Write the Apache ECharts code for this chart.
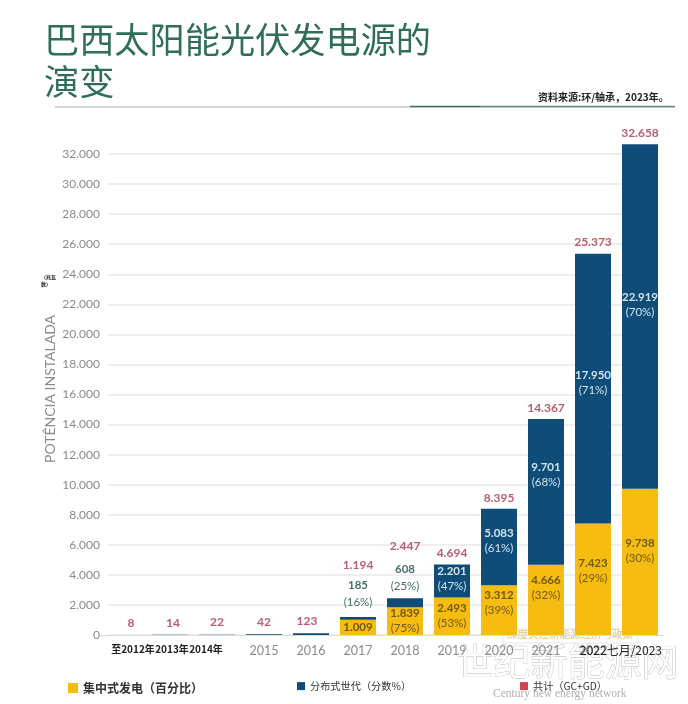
<!DOCTYPE html>
<html><head><meta charset="utf-8">
<style>html,body{margin:0;padding:0;background:#fff}#c{width:688px;height:704px}</style>
<script src="https://cdn.jsdelivr.net/npm/echarts@6/dist/echarts.min.js"></script>
</head><body><div id="c"></div>
<script>
const categories = ['至2012年','2013年','2014年','2015','2016','2017','2018','2019','2020','2021','2022','七月/2023'];
const gcValues = [0,0,0,0,0,1009,1839,2493,3312,4666,7423,9738];
const gdValues = [8,14,22,42,123,185,608,2201,5083,9701,17950,22919];
const totals = [8,14,22,42,123,1194,2447,4694,8395,14367,25373,32658];
const gcPct = [null,null,null,null,null,null,75,53,39,32,29,30];
const gdPct = [null,null,null,null,null,16,25,47,61,68,71,70];
const yTicks = [0,2000,4000,6000,8000,10000,12000,14000,16000,18000,20000,22000,24000,26000,28000,30000,32000];

const CJK = '"Noto Sans CJK SC"';
const num = v => { const s = String(v); return s.length > 3 ? s.slice(0, -3) + '.' + s.slice(-3) : s; };
const totalOffset = {0:[8,0],1:[3,0],4:[-4,0],5:[0,-41],6:[0,-41]};
const gcLabelOffset = {8:-7,9:-12,10:-8,11:-11};
const gdLabelOffset = {7:-2,8:-6,9:-17,10:-6,11:-12};
const Y0 = 635, UNIT = 30.06 / 2000, YMAX = 34000, TOP = Y0 - YMAX * UNIT;
const labelColors = {red:'#a83349', darkY:'#6e5a14', light:'#cfe2ef', teal:'#4a6f6c'};

const option = {
  animation:false,
  backgroundColor:'#fff',
  textStyle:{fontFamily:CJK},
  grid:[
    {left:108,top:TOP,width:514,height:Y0-TOP},
    {left:99.5,top:TOP,width:564,height:Y0-TOP}
  ],
  xAxis:[
    {gridIndex:0,type:'category',data:[''],show:false},
    {gridIndex:1,type:'category',data:categories,
      axisLine:{lineStyle:{color:'#dcdcdc'}},axisTick:{show:false},
      axisLabel:{interval:0,margin:9,fontFamily:'Lato',fontSize:12.5,color:'#8a8a8a',
        formatter:(v,i)=> i===0?`{a|${v}}`:i===1?`{c|${v}}`:i===2?`{d|${v}}`:(i===11?`{w|2022${v}}`:v),
        rich:{a:{fontFamily:CJK,fontSize:10,fontWeight:'bold',color:'#222',padding:[0,0,4,20]},
              c:{fontFamily:CJK,fontSize:10,fontWeight:'bold',color:'#222',padding:[0,0,4,4]},
              d:{fontFamily:CJK,fontSize:10,fontWeight:'bold',color:'#222',padding:[0,22,4,0]},
              w:{fontFamily:CJK,fontSize:12,color:'#222',padding:[0,38,2,0]}}}}
  ],
  yAxis:[
    {gridIndex:0,type:'value',min:0,max:YMAX,interval:2000,
      axisLine:{show:false},axisTick:{show:false},
      splitLine:{show:true,showMaxLine:false,lineStyle:{color:'#e8e8e8',width:1.5}},
      axisLabel:{margin:8,fontFamily:'Lato',fontSize:12,color:'#8a8a8a',
        formatter:v=> yTicks.includes(v)?(v===0?'0':num(v)):''}},
    {gridIndex:1,type:'value',min:0,max:YMAX,interval:2000,show:false,splitLine:{show:false}}
  ],
  legend:[
    {left:63,top:677,data:['集中式发电（百分比）'],icon:'rect',itemWidth:10,itemHeight:10,itemGap:6,
      textStyle:{fontFamily:CJK,fontSize:12,color:'#333',fontWeight:'bold'}},
    {left:292,top:676,data:['分布式世代（分数%）'],icon:'rect',itemWidth:8,itemHeight:8,itemGap:4,
      textStyle:{fontFamily:CJK,fontSize:10.2,color:'#333'}},
    {left:515,top:676,data:['共计（GC+GD）'],icon:'rect',itemWidth:8,itemHeight:8,itemGap:3,
      textStyle:{fontFamily:CJK,fontSize:10.2,color:'#333'}}
  ],
  series:[
    {name:'集中式发电（百分比）',type:'bar',stack:'a',xAxisIndex:1,yAxisIndex:1,barWidth:36,
      itemStyle:{color:'#f6bc12'},
      data:gcValues.map((v,i)=>({value:v,label:{
        show:v>0,position:'inside',offset:[0,gcLabelOffset[i]||0],
        formatter:gcPct[i]!=null?`{v|${num(v)}}\n{p|(${gcPct[i]}%)}`:`{v|${num(v)}}`,
        rich:{v:{fontFamily:'Lato',fontSize:11.5,fontWeight:'bold',color:labelColors.darkY,lineHeight:15},
              p:{fontFamily:'Lato',fontSize:11.5,color:labelColors.darkY,lineHeight:15}}}}))},
    {name:'分布式世代（分数%）',type:'bar',stack:'a',xAxisIndex:1,yAxisIndex:1,barWidth:36,
      itemStyle:{color:'#0f4c78'},
      data:gdValues.map((v,i)=>({value:v,label:{
        show:gdPct[i]!=null,position:(i===5||i===6)?'top':'inside',distance:i===5?6:3,
        offset:[0,gdLabelOffset[i]||0],
        formatter:`{v|${num(v)}}\n{p|(${gdPct[i]}%)}`,
        rich:(i===5||i===6)?
          {v:{fontFamily:'Lato',fontSize:11.5,fontWeight:'bold',color:labelColors.teal,lineHeight:17},
           p:{fontFamily:'Lato',fontSize:11.5,color:labelColors.teal,lineHeight:17}}:
          {v:{fontFamily:'Lato',fontSize:11.5,fontWeight:'bold',color:labelColors.light,lineHeight:15},
           p:{fontFamily:'Lato',fontSize:11.5,color:labelColors.light,lineHeight:15}}}}))},
    {name:'共计（GC+GD）',type:'scatter',xAxisIndex:1,yAxisIndex:1,symbol:'rect',symbolSize:0.1,
      itemStyle:{color:'#c4172c'},
      data:totals.map((v,i)=>({value:v,label:{show:true,position:'top',distance:i<5?6:5,
        offset:totalOffset[i]||[0,0],formatter:`{t|${num(v)}}`,
        rich:{t:{fontFamily:'Lato',fontSize:12,fontWeight:'bold',color:labelColors.red}}}}))}
  ],
  graphic:[
    {type:'text',left:44,top:18,style:{text:'巴西太阳能光伏发电源的\n演变',fontFamily:CJK,fontSize:35.2,lineHeight:42.5,fill:'#2f6e58'}},
    {type:'text',left:538,top:92,style:{text:'资料来源:环/轴承，2023年。',fontFamily:CJK,fontSize:10,fontWeight:'bold',fill:'#222'}},
    {type:'line',shape:{x1:55,y1:107,x2:675,y2:107},style:{stroke:'#a5aeaa',lineWidth:1}},
    {type:'line',shape:{x1:410,y1:106.5,x2:480,y2:106.5},style:{stroke:'#3f6f5e',lineWidth:1.5}},
    {type:'line',shape:{x1:480,y1:106.5,x2:675,y2:106.5},style:{stroke:'#6a8a7f',lineWidth:1.5}},
    {type:'text',x:50,y:389,rotation:Math.PI/2,originX:0,originY:0,
      style:{text:'POTÊNCIA INSTALADA',fontFamily:'Lato',fontSize:14,fill:'#8a8a8a',align:'center',verticalAlign:'middle'}},
    {type:'text',left:41,top:274,style:{text:'（兆瓦\n数）',fontFamily:CJK,fontSize:5,fontWeight:'bold',lineHeight:7,fill:'#222'}},
    {type:'rect',shape:{x:503,y:629,width:135,height:14},style:{fill:'rgba(255,255,255,0.55)',stroke:'#e6e6e6',lineWidth:1}},
    {type:'text',left:507,top:629,style:{text:'深度关注新能源经济与政策',fontFamily:CJK,fontSize:10.5,fill:'#e2c07c'}},
    {type:'text',left:456,top:643,style:{text:'世纪新能源网',fontFamily:CJK,fontSize:37,fill:'#fff',stroke:'#b5b5b5',lineWidth:0.8}},
    {type:'text',left:493,top:688,style:{text:'Century new energy network',fontFamily:'Liberation Serif',fontSize:11.5,fill:'#b0b0b0'}}
  ]
};
echarts.init(document.getElementById('c')).setOption(option);
</script></body></html>
